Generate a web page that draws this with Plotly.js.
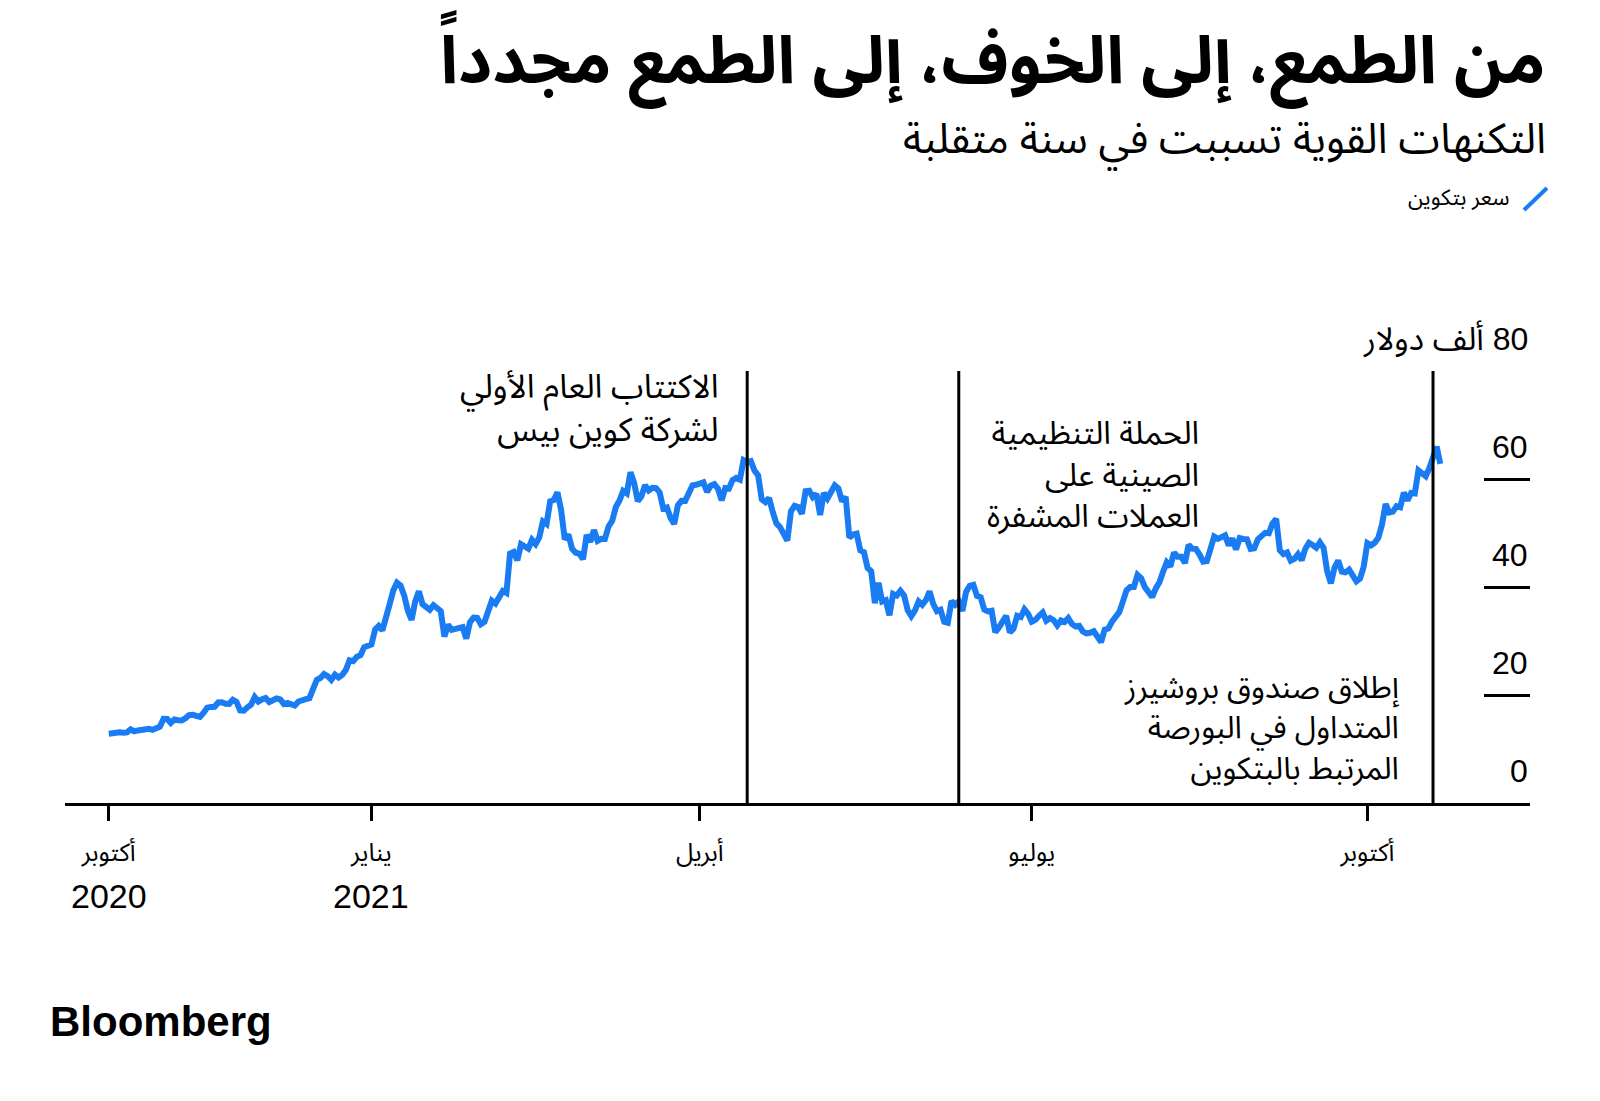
<!DOCTYPE html>
<html>
<head>
<meta charset="utf-8">
<script src="https://cdn.plot.ly/plotly-3.0.1.min.js"></script>
<style>
  html, body { margin: 0; padding: 0; background: #ffffff; }
  #chart { width: 1600px; height: 1101px; }
</style>
</head>
<body>
<div id="chart"></div>
<script>
// ---------- DATA (Bitcoin price, thousand USD, daily) ----------
const oct2020Start = '2020-10-21';
const oct2020 = [12.82, 12.97, 12.93, 13.11, 13.03, 13.08, 13.65, 13.27, 13.44, 13.55, 13.78];
const nov2020Start = '2020-11-01';
const nov2020 = [13.74, 13.55, 14.00, 14.13, 15.58, 15.57, 14.83, 15.48, 15.33, 15.29, 15.70, 16.28, 16.32, 16.07, 15.96,
                 16.72, 17.65, 17.80, 17.82, 18.62, 18.64, 18.37, 18.36, 19.11, 18.73, 17.15, 17.11, 17.72, 18.18, 19.63];
const dec2020Start = '2020-12-01';
const dec2020 = [18.80, 19.20, 19.45, 18.70, 19.15, 19.35, 19.19, 18.32, 18.55, 18.26, 18.06, 18.80, 19.14, 19.25, 19.42,
                 21.31, 22.81, 23.14, 23.87, 23.48, 22.80, 23.78, 23.24, 23.74, 24.66, 26.44, 26.27, 27.08, 27.36, 28.84, 29.00];
const jan2021Start = '2021-01-01';
const jan2021 = [29.37, 32.13, 32.78, 31.97, 33.99, 36.82, 39.37, 40.80, 40.25, 38.36, 35.57, 33.92, 37.32, 39.19, 36.83,
                 36.18, 35.79, 36.63, 36.07, 35.55, 30.83, 33.01, 32.07, 32.29, 32.37, 32.57, 30.43, 33.47, 34.32, 34.27, 33.11];
const feb2021Start = '2021-02-01';
const feb2021 = [33.54, 35.51, 37.47, 36.93, 38.14, 39.27, 38.90, 46.20, 46.48, 44.92, 47.91, 47.51, 47.11, 48.72,
                 47.95, 49.20, 52.15, 51.68, 55.89, 56.10, 57.54, 54.21, 48.83, 49.71, 47.09, 46.34, 46.19, 45.14];
const mar2021Start = '2021-03-01';
const mar2021 = [49.63, 48.38, 50.54, 48.56, 48.93, 48.91, 51.21, 52.25, 54.82, 56.01, 57.81, 57.33, 61.24, 59.30, 55.91,
                 56.80, 58.87, 57.86, 58.35, 58.31, 57.52, 54.53, 54.74, 52.77, 51.70, 55.14, 55.97, 55.95, 57.75, 58.82, 58.92];
const apr2021Start = '2021-04-01';
const apr2021 = [59.10, 59.38, 57.60, 58.76, 59.06, 58.19, 56.05, 58.32, 58.25, 59.79, 60.20, 59.89, 63.50, 63.11, 63.31,
                 61.57, 60.68, 56.22, 55.72, 56.47, 53.91, 51.76, 51.09, 50.05, 48.60, 54.02, 55.03, 54.82, 53.56, 57.75];
const may2021Start = '2021-05-01';
const may2021 = [57.83, 56.63, 57.20, 53.33, 57.42, 56.40, 57.36, 58.80, 58.23, 55.86, 56.70, 49.15, 49.72, 49.88, 46.76,
                 46.46, 43.54, 42.91, 37.00, 40.78, 37.30, 37.54, 34.77, 38.71, 38.40, 39.29, 38.44, 35.70, 34.62, 35.68, 37.33];
const jun2021Start = '2021-06-01';
const jun2021 = [36.69, 37.58, 39.19, 36.85, 35.52, 35.80, 33.55, 33.38, 37.39, 36.70, 37.31, 35.55, 39.10, 40.22, 40.41,
                 38.35, 38.09, 35.82, 35.48, 35.60, 31.61, 32.51, 33.68, 34.66, 31.59, 32.28, 34.67, 34.43, 35.87, 35.04];
const jul2021Start = '2021-07-01';
const jul2021 = [33.57, 33.90, 34.67, 35.29, 33.75, 34.24, 33.86, 32.88, 33.80, 33.52, 34.24, 33.16, 32.70, 32.82, 31.78,
                 31.42, 31.53, 31.80, 30.82, 29.81, 32.11, 32.31, 33.58, 34.29, 35.35, 37.34, 39.41, 40.00, 40.01, 42.24, 41.63];
const aug2021Start = '2021-08-01';
const aug2021 = [39.97, 39.20, 38.15, 39.75, 40.87, 42.82, 44.56, 43.80, 46.37, 45.59, 45.59, 44.43, 47.79, 47.10, 47.05,
                 46.00, 44.70, 44.80, 46.72, 49.34, 48.91, 49.32, 49.55, 47.71, 48.99, 46.94, 49.06, 48.90, 48.83, 47.06, 47.17];
const sep2021Start = '2021-09-01';
const sep2021 = [48.85, 49.33, 50.03, 49.94, 51.75, 52.63, 46.81, 46.09, 46.39, 44.88, 45.20, 46.06, 44.96, 47.09, 48.18,
                 47.78, 47.27, 48.28, 47.26, 42.84, 40.69, 43.58, 44.90, 42.84, 42.72, 43.21, 42.24, 41.03, 41.56, 43.79];
const oct2021Start = '2021-10-01';
const oct2021 = [48.12, 47.71, 48.20, 49.11, 51.51, 55.36, 53.81, 53.97, 54.97, 54.77, 57.48, 56.04, 57.40, 57.32, 61.59,
                 60.89, 60.50, 62.03, 64.26, 65.99, 62.80];

// x-axis ticks
const tickDates = ['2020-10-21', '2021-01-01', '2021-04-01', '2021-07-01', '2021-10-01'];
const tickMonths = ['أكتوبر', 'يناير', 'أبريل', 'يوليو', 'أكتوبر'];
const yearDates = ['2020-10-21', '2021-01-01'];
const yearLabels = ['2020', '2021'];
// y-axis ticks
const yTicks = [0, 20, 40, 60, 80];
const yTickLabels = ['0', '20', '40', '60', '\u200F80 ألف دولار'];

// events
const eventDates = ['2021-04-14', '2021-06-11', '2021-10-19'];
const eventLabels = [
  ['الاكتتاب العام الأولي', 'لشركة كوين بيس'],
  ['الحملة التنظيمية', 'الصينية على', 'العملات المشفرة'],
  ['إطلاق صندوق بروشيرز', 'المتداول في البورصة', 'المرتبط بالبتكوين']
];

const titleText = 'من الطمع، إلى الخوف، إلى الطمع مجدداً';
const subtitleText = 'التكنهات القوية تسببت في سنة متقلبة';
const legendText = 'سعر بتكوين';
const sourceText = 'Bloomberg';

// ---------- BUILD SERIES ----------
function days(startISO, vals) {
  const d0 = new Date(startISO + 'T00:00:00Z');
  return vals.map((v, i) => {
    const d = new Date(d0.getTime() + i * 86400000);
    return d.toISOString().slice(0, 10);
  });
}
const months = [
  [oct2020Start, oct2020], [nov2020Start, nov2020], [dec2020Start, dec2020],
  [jan2021Start, jan2021], [feb2021Start, feb2021], [mar2021Start, mar2021],
  [apr2021Start, apr2021], [may2021Start, may2021], [jun2021Start, jun2021],
  [jul2021Start, jul2021], [aug2021Start, aug2021], [sep2021Start, sep2021],
  [oct2021Start, oct2021]
];
let xs = [], ys = [];
months.forEach(([s, v]) => { xs = xs.concat(days(s, v)); ys = ys.concat(v); });

// ---------- LAYOUT GEOMETRY ----------
const W = 1600, H = 1101;
const L = 65, R = 1530, T = 371, B = 803;
const px = x => (x - L) / (R - L);
const py = y => (B - y) / (B - T);

const AR = '"Noto Sans Arabic", "DejaVu Sans", sans-serif';
const NUM = '"Liberation Sans", "Noto Sans Arabic", "DejaVu Sans", sans-serif';
const BLUE = '#1a7cf2';

const annotations = [];
function ann(text, x, y, size, anchor, family, extra) {
  annotations.push(Object.assign({
    xref: 'paper', yref: 'paper', x: px(x), y: py(y),
    xanchor: anchor, yanchor: 'middle', showarrow: false, text: text,
    font: { size: size, family: family, color: '#000000' }
  }, extra || {}));
}

// title & subtitle
ann('<b>' + titleText + '</b>', 1548, 62, 66, 'right', AR);
ann(subtitleText, 1548, 139, 42, 'right', AR);
ann(legendText, 1511, 198, 22, 'right', AR);
ann('<b>' + sourceText + '</b>', 48, 1021, 42, 'left', '"Liberation Sans", Arial, sans-serif');

// y tick labels (above the tick marks)
yTicks.forEach((v, i) => {
  annotations.push({
    xref: 'paper', yref: 'y', x: 1, y: v, yshift: 32,
    xanchor: 'right', yanchor: 'middle', showarrow: false, text: yTickLabels[i],
    font: { size: 32, family: NUM, color: '#000000' }
  });
});

// years under the month labels
yearDates.forEach((d, i) => {
  annotations.push({
    xref: 'x', yref: 'paper', x: d, y: py(896),
    xanchor: 'center', yanchor: 'middle', showarrow: false, text: yearLabels[i],
    font: { size: 34, family: NUM, color: '#000000' }
  });
});

// event labels (multi-line, right aligned)
const eventRight = [721, 1201, 1401];
const eventMid = [409, 475, 728];
const eventSize = [33, 32, 31];
eventLabels.forEach((lines, k) => {
  ann(lines.join('<br>'), eventRight[k], eventMid[k], eventSize[k], 'right', AR, { align: 'right' });
});

// event vertical lines
const shapes = eventDates.map(d => ({
  type: 'line', xref: 'x', yref: 'y', x0: d, x1: d, y0: 0, y1: 80,
  line: { color: '#000000', width: 3 }
}));
// legend swatch
shapes.push({
  type: 'line', xref: 'paper', yref: 'paper',
  x0: px(1524), x1: px(1547), y0: py(210), y1: py(188),
  line: { color: BLUE, width: 4 }
});

const trace = {
  type: 'scatter', mode: 'lines', x: xs, y: ys,
  line: { color: BLUE, width: 6, shape: 'linear' },
  hoverinfo: 'x+y', showlegend: false
};

const layout = {
  width: W, height: H,
  margin: { l: L, r: W - R, t: T, b: H - B, pad: 0 },
  paper_bgcolor: '#ffffff', plot_bgcolor: '#ffffff',
  showlegend: false,
  xaxis: {
    type: 'date',
    range: ['2020-10-09', '2021-11-14 14:00'],
    showgrid: false, zeroline: false,
    showline: true, linecolor: '#000000', linewidth: 3,
    ticks: 'outside', ticklen: 15, tickwidth: 3, tickcolor: '#000000',
    tickmode: 'array', tickvals: tickDates, ticktext: tickMonths,
    tickfont: { size: 25, family: AR, color: '#000000' },
    ticklabelstandoff: 10,
    fixedrange: true
  },
  yaxis: {
    range: [0, 80], side: 'right',
    showgrid: false, zeroline: false, showline: false,
    ticks: 'inside', ticklen: 46, tickwidth: 3, tickcolor: '#000000',
    tickmode: 'array', tickvals: yTicks, showticklabels: false,
    fixedrange: true
  },
  shapes: shapes,
  annotations: annotations
};

Plotly.newPlot('chart', [trace], layout, { displayModeBar: false, staticPlot: true });
</script>
</body>
</html>
